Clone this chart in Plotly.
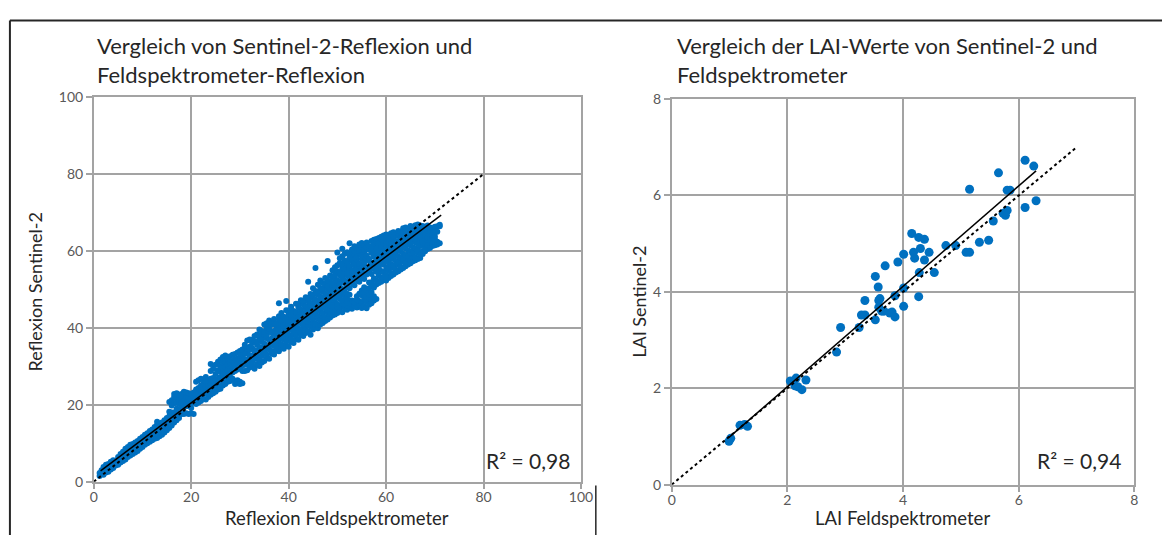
import plotly.graph_objects as go

W, H = 1174, 543

# ---------------- data: left chart (reflectance, %) ----------------
# field spectrometer reflectance (x) columns and the Sentinel-2 reflectance values (y) read in each column
refl_col_x = [
    1.2, 1.6, 2.0, 2.5, 3.0, 3.5, 4.0, 4.5, 5.0, 5.5, 6.0, 6.5, 7.0, 7.5, 8.0, 8.5, 9.0, 9.5,
    10.0, 10.5, 11.0, 11.5, 12.0, 12.5, 13.0, 13.5, 14.0, 14.5, 15.0,
    15.5, 16.0, 16.5, 17.0, 17.5, 18.0, 18.5, 19.0, 19.5, 20.0, 20.5, 21.0, 21.5, 22.0, 22.5,
    23.0, 23.5, 24.0, 24.5, 25.0, 25.5, 26.0, 26.5, 27.0, 27.5, 28.0, 28.5, 29.0, 29.5, 30.0,
    30.5, 31.0,
    31.5, 32.0, 32.5, 33.0, 33.5, 34.0, 34.5, 35.0, 35.5, 36.0, 36.5, 37.0, 37.5, 38.0, 38.5,
    39.0, 39.5, 40.0, 40.5, 41.0, 41.5, 42.0, 42.5, 43.0, 43.5, 44.0, 44.5, 45.0, 45.5, 46.0,
    46.5, 47.0, 47.5, 48.0, 48.5, 49.0, 49.5, 50.0,
    50.5, 51.0, 51.5, 52.0, 52.5, 53.0, 53.5, 54.0, 54.5, 55.0, 55.5, 56.0, 56.5, 57.0, 57.5,
    58.0, 58.5, 59.0, 59.5, 60.0, 60.5, 61.0, 61.5, 62.0, 62.5, 63.0, 63.5, 64.0, 64.5, 65.0,
    65.5, 66.0, 66.5, 67.0, 67.5, 68.0, 68.5, 69.0, 69.5, 70.0, 70.5, 71.0,
]
refl_col_y = [
    [1.5, 2.3], [2.0, 3.0], [1.8, 2.8, 3.8], [2.4, 3.4, 4.4], [2.6, 3.6, 4.6], [3.2, 4.2, 5.2],
    [3.6, 4.8, 5.6], [4.2, 5.2], [4.4, 5.6, 6.4], [5.0, 6.0, 7.2], [5.4, 6.6, 7.8], [5.8, 7.0, 8.6],
    [6.4, 7.6, 9.0], [6.8, 8.0, 9.6], [7.2, 8.4, 9.8], [7.6, 8.8, 10.2], [8.0, 9.4, 10.6],
    [8.6, 9.8, 11.2], [9.0, 10.2, 11.6], [9.6, 10.8, 12.2], [10.0, 11.4, 12.6], [10.4, 11.8, 13.2],
    [10.8, 12.2, 13.6], [11.2, 12.6, 14.2], [11.4, 13.0, 14.8, 15.6], [11.8, 13.4, 15.0],
    [12.2, 13.8, 15.4], [12.8, 14.4, 16.0], [13.4, 15.0, 16.6],
    [14.0, 15.6, 17.0, 18.2, 20.7], [14.6, 16.2, 18.0, 19.8, 21.2], [15.4, 16.8, 18.0, 20.4, 22.0, 22.8],
    [16.0, 17.6, 19.0, 20.6, 21.8, 23.0], [16.6, 17.8, 20.2, 21.4, 22.6], [17.6, 19.2, 20.4, 21.6, 22.8],
    [17.6, 20.0, 21.2, 22.4, 23.4], [17.8, 19.6, 20.8, 22.0, 23.2], [17.6, 20.6, 21.8, 23.0],
    [17.8, 19.2, 20.4, 21.6, 22.8], [17.6, 20.8, 22.0, 23.2], [20.2, 21.4, 22.6, 24.0, 26.0],
    [20.6, 21.8, 23.0, 24.4, 26.4], [21.0, 22.4, 23.6, 25.0, 26.8], [21.6, 22.8, 24.0, 25.4, 26.6],
    [21.4, 23.2, 24.6, 26.0, 27.2], [22.0, 23.6, 25.0, 26.4], [22.6, 24.0, 25.4, 26.8, 28.8, 30.6],
    [23.0, 24.6, 25.8, 27.0, 29.4], [23.4, 25.0, 26.4, 28.0, 30.4], [24.0, 25.4, 26.8, 29.0, 31.2],
    [24.2, 25.8, 27.2, 28.6, 30.0, 31.8], [25.0, 26.4, 28.0, 29.4, 31.0, 32.4],
    [25.4, 27.0, 28.4, 29.8, 31.2, 32.8], [26.0, 27.4, 29.0, 30.4, 32.0], [26.2, 28.0, 29.4, 31.0, 32.6],
    [26.8, 28.4, 29.8, 31.4, 33.0], [25.4, 26.2, 28.8, 30.2, 31.8, 33.2], [25.6, 26.4, 29.2, 30.6, 32.0, 33.6],
    [25.4, 26.0, 29.6, 31.0, 32.4, 34.0], [25.6, 28.8, 30.2, 31.6, 33.0, 34.4],
    [28.8, 30.4, 31.8, 33.2, 34.8, 35.6],
    [29.0, 30.9, 31.8, 33.9, 34.6, 36.7], [29.7, 30.6, 32.9, 34.3, 35.1, 37.0],
    [30.3, 31.2, 32.4, 34.8, 36.1, 36.9], [29.4, 31.9, 33.5, 34.2, 36.5, 37.9],
    [30.6, 32.3, 33.1, 35.6, 36.2, 38.3], [30.1, 31.6, 34.3, 35.0, 37.3, 38.1, 39.6],
    [31.0, 32.7, 33.8, 36.4, 37.1, 39.2], [31.4, 33.6, 35.1, 35.9, 38.2, 39.0, 40.9],
    [32.2, 33.1, 34.7, 37.3, 38.0, 40.1, 41.2], [32.0, 34.4, 35.3, 36.8, 39.1, 39.8, 41.9],
    [33.3, 34.0, 36.5, 37.2, 38.7, 40.8], [33.1, 35.3, 36.1, 38.4, 39.2, 41.3, 42.3],
    [34.1, 35.0, 37.2, 38.0, 40.3, 41.0], [33.9, 36.2, 36.9, 39.1, 39.9, 42.1, 43.0, 46.4],
    [34.9, 35.7, 38.1, 38.8, 41.0, 41.8, 43.9], [34.6, 36.9, 37.6, 40.0, 40.7, 42.9],
    [35.3, 36.4, 38.7, 39.5, 41.8, 42.6, 44.6, 47.0], [35.1, 37.5, 38.3, 40.6, 41.4, 43.7, 44.5],
    [36.3, 37.2, 39.6, 40.2, 42.5, 43.3, 45.5], [36.1, 38.3, 39.1, 41.3, 42.2, 44.4],
    [37.1, 38.0, 40.3, 41.0, 43.3, 44.1, 46.3], [36.9, 39.2, 39.9, 42.1, 42.9, 45.3, 46.2],
    [38.1, 38.8, 41.2, 41.9, 44.0, 44.8, 47.2], [37.9, 40.0, 40.8, 43.0, 43.7, 46.1, 46.9],
    [38.7, 39.6, 41.9, 42.6, 44.9, 45.7, 48.0], [39.1, 40.7, 41.5, 43.8, 44.5, 46.9, 47.7, 52.0],
    [38.2, 40.4, 42.7, 43.4, 45.6, 46.5, 48.8], [39.6, 41.5, 42.3, 44.5, 45.3, 47.7, 48.5, 50.3],
    [40.1, 41.1, 43.5, 44.2, 46.4, 47.3, 49.6, 55.6], [39.9, 42.3, 43.1, 45.4, 46.1, 48.6, 49.3, 51.2],
    [40.9, 41.9, 44.3, 45.0, 47.3, 48.1, 50.4, 52.3], [41.3, 43.0, 43.9, 46.2, 47.0, 49.4, 50.1, 51.7],
    [41.8, 42.7, 45.1, 45.8, 48.1, 48.9, 51.2, 53.0], [42.2, 43.9, 44.7, 47.0, 47.7, 50.1, 50.9, 52.3, 57.4],
    [42.7, 43.6, 45.9, 46.6, 48.9, 49.7, 52.0, 53.6], [43.2, 44.6, 45.5, 47.7, 48.6, 50.9, 51.6, 53.2, 55.0],
    [43.5, 44.3, 46.6, 47.5, 49.7, 50.5, 52.8, 53.9, 55.8],
    [43.9, 45.4, 46.2, 48.6, 49.3, 51.7, 52.4, 54.7, 56.3, 59.6],
    [44.4, 45.3, 47.5, 48.3, 50.6, 51.4, 53.7, 54.5, 56.9, 58.1],
    [44.1, 46.2, 47.1, 49.4, 50.1, 52.5, 53.3, 55.6, 56.4, 58.6, 60.6],
    [45.2, 46.0, 48.3, 49.1, 50.0, 51.7, 52.3, 54.4, 55.4, 57.5, 59.3],
    [44.7, 46.8, 47.6, 48.9, 50.8, 51.5, 53.6, 54.2, 56.5, 57.2, 59.7],
    [45.5, 46.3, 48.6, 50.3, 52.4, 53.2, 55.3, 56.1, 58.3, 59.2, 62.0],
    [45.0, 47.1, 51.6, 52.1, 54.3, 55.0, 57.3, 58.0, 60.4],
    [45.8, 46.6, 51.1, 53.3, 53.9, 56.2, 56.9, 59.0, 59.9, 61.2],
    [45.3, 47.4, 48.2, 52.4, 54.9, 55.3, 57.8, 58.6, 60.8],
    [46.1, 47.0, 48.9, 52.0, 53.6, 56.1, 56.7, 59.4, 60.1, 61.7],
    [45.2, 46.5, 48.5, 49.7, 53.1, 54.7, 55.5, 57.9, 58.9, 61.0, 62.1],
    [45.7, 47.6, 49.1, 50.6, 52.7, 54.2, 56.3, 57.1, 59.7, 60.3, 61.5],
    [45.1, 46.9, 48.0, 49.9, 53.9, 55.6, 58.2, 58.8, 60.9, 62.2],
    [46.0, 47.8, 48.7, 50.3, 51.8, 54.4, 55.1, 57.4, 58.0, 60.3, 61.3],
    [46.4, 47.3, 49.3, 50.9, 51.9, 54.0, 56.4, 57.0, 59.5, 60.6, 62.6],
    [47.1, 48.2, 50.5, 52.9, 55.3, 56.1, 58.5, 59.1, 61.7, 62.9],
    [47.5, 51.3, 52.4, 54.6, 56.9, 57.6, 60.0, 60.7, 62.3, 63.1],
    [51.7, 53.6, 55.7, 56.3, 58.6, 59.3, 61.4, 62.0, 63.4],
    [52.0, 53.1, 54.8, 57.4, 58.0, 60.4, 61.0, 63.0, 63.7],
    [52.9, 54.5, 56.4, 56.9, 59.1, 59.9, 62.1, 62.7, 64.0],
    [52.3, 53.7, 55.2, 57.8, 58.5, 60.9, 61.6, 63.5, 64.3],
    [53.0, 55.0, 55.9, 57.2, 59.6, 60.2, 62.5, 63.2, 64.1],
    [53.5, 54.3, 56.6, 58.4, 59.1, 61.4, 62.0, 64.0, 64.6],
    [53.9, 55.6, 56.2, 57.9, 60.3, 60.9, 63.0, 63.7, 64.9],
    [54.4, 55.1, 57.4, 58.9, 59.7, 62.0, 62.6, 64.3],
    [54.7, 56.4, 57.0, 58.6, 61.0, 61.6, 63.9, 64.6, 65.2],
    [55.2, 55.9, 58.1, 59.9, 60.5, 62.7, 63.3, 65.0],
    [55.6, 57.2, 57.8, 59.3, 61.6, 62.3, 64.3, 64.9, 65.9],
    [56.0, 56.8, 58.9, 60.7, 61.3, 63.5, 64.1, 65.5, 66.1],
    [56.5, 58.0, 58.6, 60.1, 62.4, 63.0, 65.0, 65.7],
    [56.8, 57.5, 59.8, 61.5, 62.1, 64.2, 64.9, 66.0, 66.5],
    [57.3, 58.7, 59.4, 61.0, 63.2, 63.8, 65.7, 66.3],
    [57.6, 58.3, 60.6, 62.3, 62.9, 65.0, 65.6, 66.7],
    [57.9, 59.5, 60.2, 61.8, 64.0, 64.6, 66.3, 66.9],
    [58.2, 59.1, 61.3, 63.0, 63.7, 65.5, 66.1, 66.6],
    [59.2, 60.0, 62.1, 62.7, 64.7, 65.4, 66.5],
    [59.9, 61.0, 61.8, 63.7, 64.4, 66.2],
    [60.5, 61.4, 62.8, 63.5, 65.3, 66.6],
    [60.8, 62.2, 62.7, 64.4, 65.0, 66.1],
    [61.3, 62.0, 63.6, 64.2, 65.9],
    [61.5, 63.1, 63.8, 65.1, 66.3],
    [61.7, 62.4, 65.0, 66.4],
    [62.0, 66.4, 66.8],
]
refl_fit_x = [1.4, 71.3]      # trend line end points
refl_fit_y = [2.8, 69.3]
refl_one_x = [0, 80]          # 1:1 line
refl_one_y = [0, 80]
refl_r2 = "R² = 0,98"

# ---------------- data: right chart (LAI) ----------------
lai_field = [0.99, 1.02, 1.18, 1.26, 1.31,
             2.05, 2.15, 2.18, 2.25, 2.32, 2.13,
             2.85, 2.92, 3.24, 3.28, 3.34, 3.52, 3.63, 3.34, 3.58, 3.77,
             3.69, 3.52, 3.57, 3.60,
             6.11, 6.26, 5.65, 5.15, 5.80, 5.85, 6.30, 6.11, 5.73, 5.80, 5.77, 5.56,
             4.15, 4.27, 4.37, 4.74, 4.91, 5.32, 5.48, 5.09, 5.15,
             4.30, 4.45, 4.18, 4.20, 4.37, 4.01, 3.91,
             4.28, 4.54, 4.01, 3.86, 4.27, 4.01, 3.58, 3.81, 3.86, 3.67]
lai_s2 = [0.90, 0.96, 1.23, 1.25, 1.21,
          2.15, 2.21, 2.03, 1.97, 2.17, 2.05,
          2.75, 3.26, 3.26, 3.52, 3.52, 3.42, 3.60, 3.82, 3.82, 3.56,
          4.54, 4.32, 4.10, 3.86,
          6.73, 6.61, 6.47, 6.13, 6.11, 6.11, 5.89, 5.75, 5.63, 5.69, 5.59, 5.47,
          5.21, 5.13, 5.09, 4.96, 4.96, 5.03, 5.07, 4.82, 4.82,
          4.90, 4.82, 4.82, 4.70, 4.66, 4.78, 4.62,
          4.40, 4.40, 4.08, 3.92, 3.90, 3.70, 3.68, 3.58, 3.48, 3.60]
lai_fit_x = [0.99, 6.30]
lai_fit_y = [0.98, 6.51]
lai_one_x = [0, 7]
lai_one_y = [0, 7]
lai_r2 = "R² = 0,94"

titles = ["Vergleich von Sentinel-2-Reflexion und<br>Feldspektrometer-Reflexion",
          "Vergleich der LAI-Werte von Sentinel-2 und<br>Feldspektrometer"]
x_titles = ["Reflexion Feldspektrometer", "LAI Feldspektrometer"]
y_titles = ["Reflexion Sentinel-2", "LAI Sentinel-2"]

# ---------------- figure ----------------
BLUE = "#0070C0"
GRID = "#A3A3A3"
TICKC = "#595959"
TXT = "#262626"
FONT = "Lato"

refl_x, refl_y = [], []
for cx, ys in zip(refl_col_x, refl_col_y):
    for yv in ys:
        refl_x.append(cx)
        refl_y.append(yv)

def px(x):
    return x / W

def py(y):
    return 1 - y / H

fig = go.Figure()
fig.add_trace(go.Scatter(x=refl_x, y=refl_y, mode="markers", xaxis="x", yaxis="y",
                         marker=dict(color=BLUE, size=6, line=dict(width=0)), showlegend=False))
fig.add_trace(go.Scatter(x=refl_one_x, y=refl_one_y, mode="lines", xaxis="x", yaxis="y",
                         line=dict(color="black", width=2, dash="dot"), showlegend=False))
fig.add_trace(go.Scatter(x=refl_fit_x, y=refl_fit_y, mode="lines", xaxis="x", yaxis="y",
                         line=dict(color="black", width=1.5), showlegend=False))

fig.add_trace(go.Scatter(x=lai_field, y=lai_s2, mode="markers", xaxis="x2", yaxis="y2",
                         marker=dict(color=BLUE, size=9, line=dict(width=0)), showlegend=False))
fig.add_trace(go.Scatter(x=lai_one_x, y=lai_one_y, mode="lines", xaxis="x2", yaxis="y2",
                         line=dict(color="black", width=2, dash="dot"), showlegend=False))
fig.add_trace(go.Scatter(x=lai_fit_x, y=lai_fit_y, mode="lines", xaxis="x2", yaxis="y2",
                         line=dict(color="black", width=1.5), showlegend=False))

axis_common = dict(showgrid=True, gridcolor=GRID, gridwidth=1.5, showline=True, linecolor=GRID,
                   linewidth=1.5, mirror=True, ticks="outside", ticklen=6, tickcolor=GRID,
                   tickwidth=1.5, zeroline=False, tickfont=dict(family=FONT, size=14, color=TICKC),
                   fixedrange=True)

fig.update_layout(
    autosize=True, margin=dict(l=0, r=0, t=0, b=0),
    paper_bgcolor="white", plot_bgcolor="white",
    xaxis=dict(domain=[px(91), px(585)], range=[0, 100], dtick=20, anchor="y",
               ticklabelstandoff=-4, **axis_common),
    yaxis=dict(domain=[py(488), py(91)], range=[0, 100], dtick=20, anchor="x", **axis_common),
    xaxis2=dict(domain=[px(677), px(1146)], range=[0, 8], dtick=2, anchor="y2",
                ticklabelstandoff=-4, **axis_common),
    yaxis2=dict(domain=[py(491), py(93)], range=[0, 8], dtick=2, anchor="x2", **axis_common),
)

ann = []
# chart titles
ann.append(dict(x=px(92), y=py(53), xref="paper", yref="paper", xanchor="left", yanchor="middle",
                text=titles[0], showarrow=False, align="left",
                font=dict(family=FONT, size=22, color=TXT)))
ann.append(dict(x=px(680), y=py(53), xref="paper", yref="paper", xanchor="left", yanchor="middle",
                text=titles[1], showarrow=False, align="left",
                font=dict(family=FONT, size=22, color=TXT)))
# axis titles
for cx, txt in [(338, x_titles[0]), (911, x_titles[1])]:
    ann.append(dict(x=px(cx), y=py(525), xref="paper", yref="paper", xanchor="center", yanchor="middle",
                    text=txt, showarrow=False, font=dict(family=FONT, size=18.5, color=TXT)))
for (cx, cy), txt in [((31, 292), y_titles[0]), ((643, 302), y_titles[1])]:
    ann.append(dict(x=px(cx), y=py(cy), xref="paper", yref="paper", xanchor="center", yanchor="middle",
                    text=txt, showarrow=False, textangle=-90,
                    font=dict(family=FONT, size=18, color=TXT)))
# R² labels
ann.append(dict(x=px(576), y=py(466), xref="paper", yref="paper", xanchor="right", yanchor="middle",
                text=refl_r2, showarrow=False, font=dict(family=FONT, size=21, color=TXT)))
ann.append(dict(x=px(1134), y=py(466), xref="paper", yref="paper", xanchor="right", yanchor="middle",
                text=lai_r2, showarrow=False, font=dict(family=FONT, size=21, color=TXT)))
fig.update_layout(annotations=ann)

# frame of the original figure
shapes = [
    dict(type="line", xref="paper", yref="paper", x0=px(6), x1=1, y0=py(12), y1=py(12),
         line=dict(color=TXT, width=2)),
    dict(type="line", xref="paper", yref="paper", x0=px(6), x1=px(6), y0=py(12), y1=0,
         line=dict(color=TXT, width=2)),
    dict(type="line", xref="paper", yref="paper", x0=px(600), x1=px(600), y0=py(492), y1=0,
         line=dict(color=TXT, width=1.5)),
]
fig.update_layout(shapes=shapes)

fig.write_html("out.html",
               default_width="100vw", default_height="100vh",
               config={"displayModeBar": False, "responsive": True},
               post_script="document.body.style.margin='0';document.body.style.overflow='hidden';")
